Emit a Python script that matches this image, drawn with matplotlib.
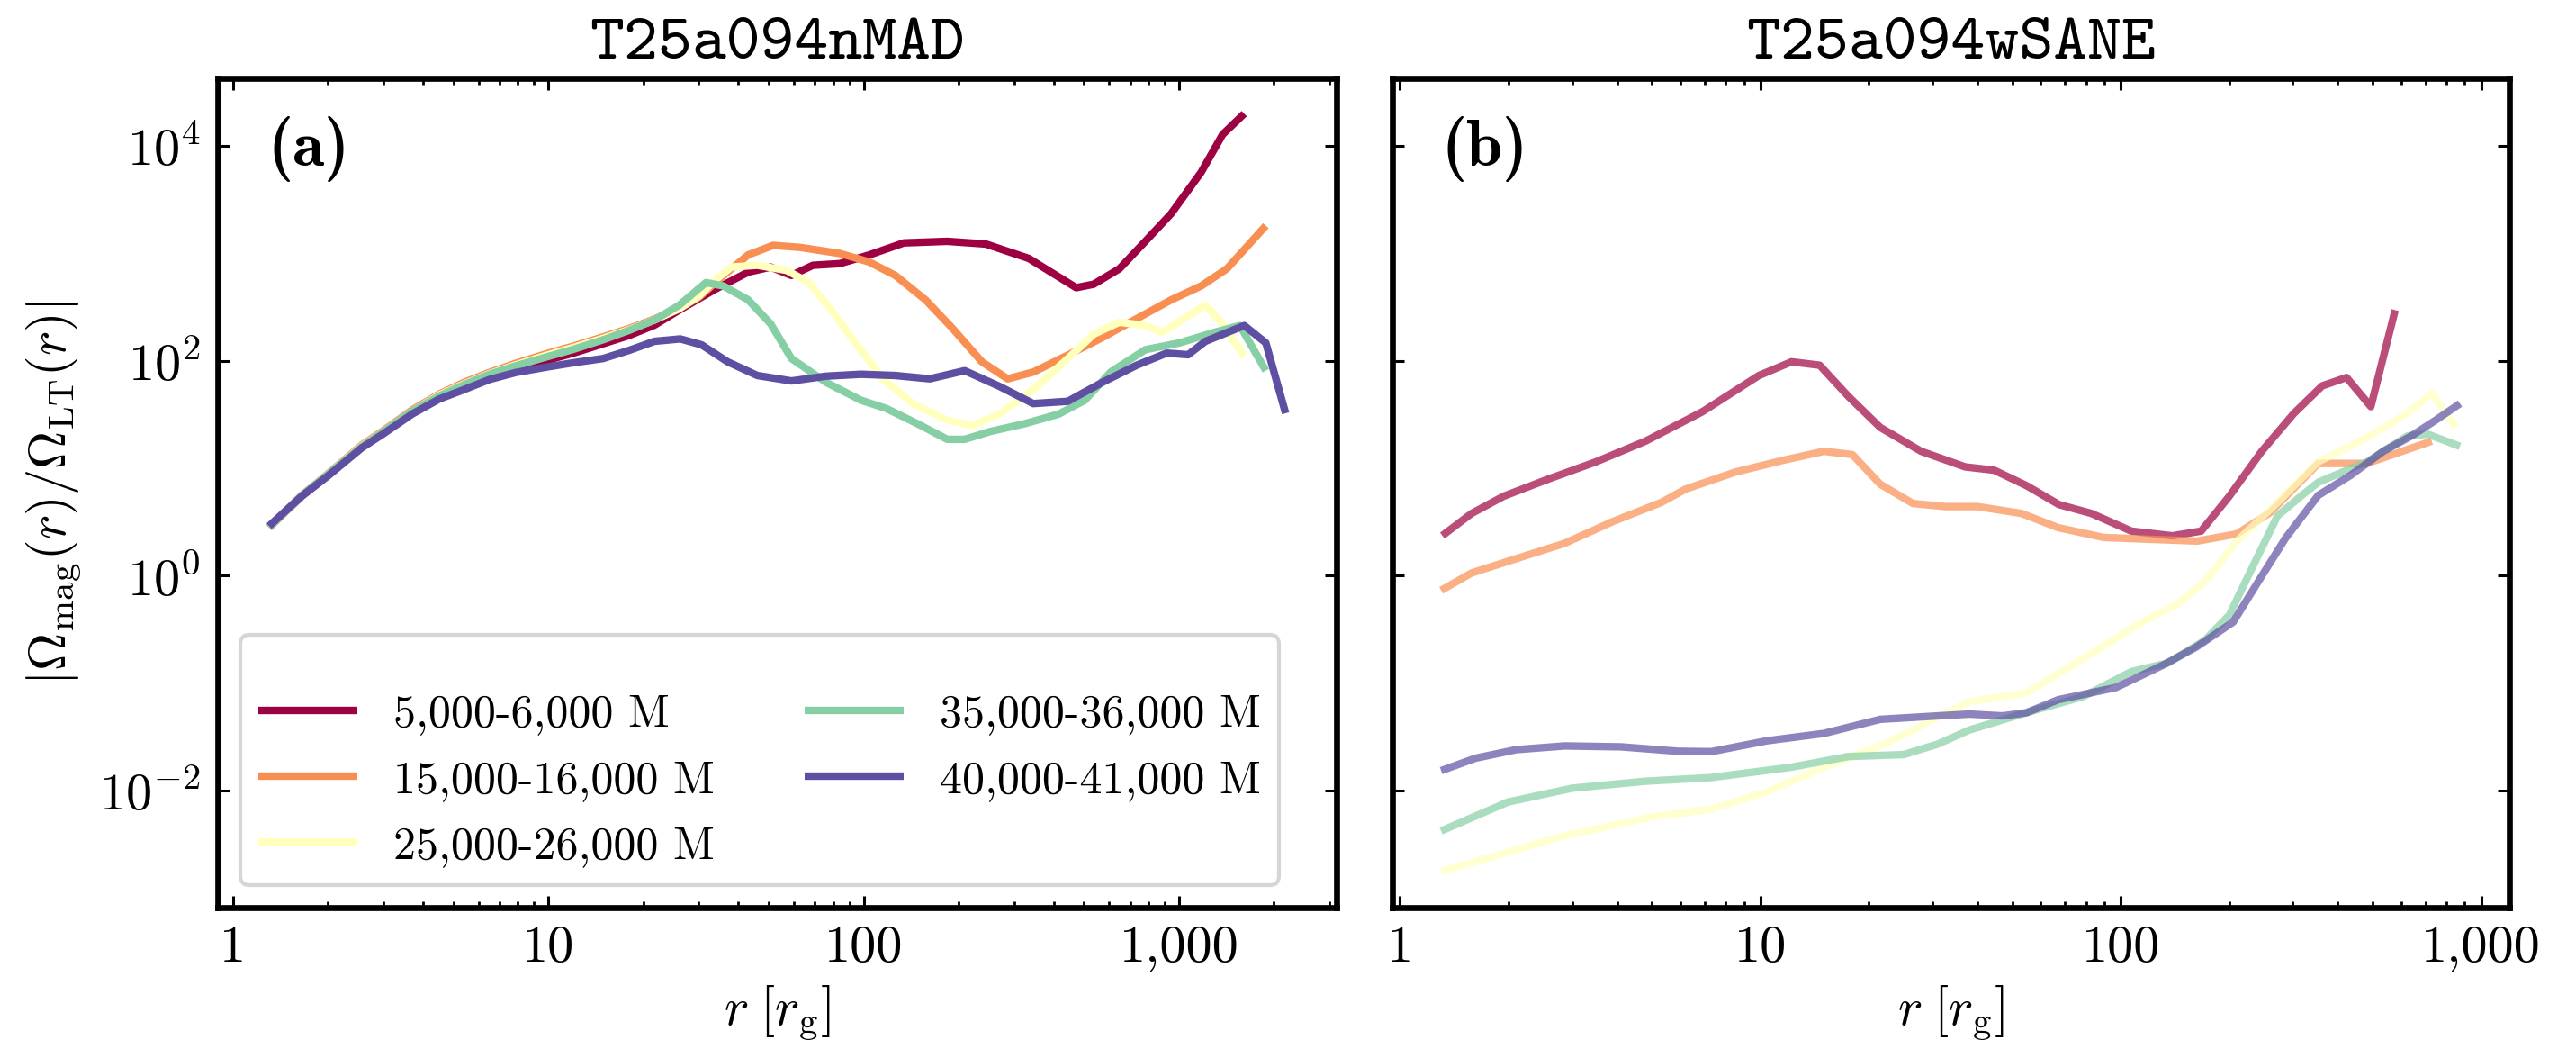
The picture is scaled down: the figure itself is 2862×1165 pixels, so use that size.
import numpy as np
import matplotlib
matplotlib.use("Agg")
import matplotlib.pyplot as plt
from matplotlib.ticker import FixedLocator, FuncFormatter, LogLocator, NullLocator

plt.rcParams['mathtext.fontset'] = 'cm'
plt.rcParams['font.family'] = ['cmr10', 'DejaVu Sans']
plt.rcParams['axes.formatter.use_mathtext'] = True
plt.rcParams['axes.unicode_minus'] = False

# ---------------- data ----------------
labels = ["5,000-6,000 M", "15,000-16,000 M", "25,000-26,000 M",
          "35,000-36,000 M", "40,000-41,000 M"]
titles = ["T25a094nMAD", "T25a094wSANE"]
panel_tags = ["(a)", "(b)"]
xtick_vals = [1, 10, 100, 1000]
xtick_labels = ["1", "10", "100", "1,000"]
ytick_vals = [1e-2, 1e0, 1e2, 1e4]

# panel (a)
a_r_red = [1.3, 1.65, 2.0, 2.56, 3.0, 3.7, 4.5, 5.4, 6.5, 7.9, 10, 12, 15, 18, 21.7, 26,
           33.7, 43, 50.7, 59, 69, 84, 104, 134, 184, 244, 334, 472, 536, 647, 782, 944,
           1175, 1375, 1610]
a_y_red = [2.8, 5.5, 8.6, 15.8, 21.5, 33, 46, 59, 72, 86, 102, 118, 145, 172, 215, 297,
           462, 670, 747, 624, 776, 804, 968, 1254, 1297, 1224, 898, 480, 517, 720, 1297,
           2345, 5690, 12800, 20000]
a_r_orange = [1.3, 1.65, 2.0, 2.56, 3.0, 3.7, 4.5, 5.4, 6.5, 7.9, 10, 12, 15, 18, 21.7, 26,
              30, 34.8, 43, 51.6, 63, 84, 104, 126, 157, 190, 237, 286, 345, 444, 570, 734,
              945, 1175, 1419, 1885]
a_y_orange = [2.8, 5.6, 8.9, 16.5, 22.5, 35, 49, 63, 78, 95, 118, 137, 168, 200, 245, 310,
              390, 577, 970, 1190, 1137, 1000, 834, 624, 370, 205, 98, 68, 78.6, 113, 164,
              247, 370, 498, 720, 1813]
a_r_yellow = [1.3, 1.65, 2.0, 2.56, 3.0, 3.7, 4.5, 5.4, 6.5, 7.9, 10, 12, 15, 18, 21.7, 26,
              30, 33.7, 38, 46, 57, 67, 79, 95, 115, 143, 184, 222, 269, 345, 444, 536, 647,
              782, 886, 1037, 1213, 1375, 1610]
a_y_yellow = [2.8, 5.6, 8.8, 16.2, 22, 34, 48, 61, 76, 92, 114, 133, 163, 195, 240, 305,
              400, 560, 747, 776, 695, 536, 297, 142, 68, 40, 28, 25, 32, 54, 105, 177, 229,
              213, 184, 247, 331, 221, 110]
a_r_green = [1.3, 1.65, 2.0, 2.56, 3.0, 3.7, 4.5, 5.4, 6.5, 7.9, 10, 12, 15, 18, 21.7, 26,
             31.6, 35.9, 43, 50.7, 59, 76, 98, 118, 148, 184, 209, 252, 324, 416, 503, 607,
             782, 1005, 1292, 1560, 1885]
a_y_green = [2.8, 5.6, 8.8, 16, 22, 34, 47, 60, 75, 90, 110, 128, 158, 192, 240, 330,
             536, 498, 370, 221, 105, 63, 43, 36, 26, 18.6, 18.6, 22, 26, 32, 43, 78.6,
             127, 147, 184, 213, 81]
a_r_purple = [1.3, 1.65, 2.0, 2.56, 3.0, 3.7, 4.5, 5.4, 6.5, 7.9, 10, 12, 14.9, 18, 21.7,
              26.2, 30.6, 37, 46, 59, 76, 98, 126, 162, 209, 269, 345, 444, 571, 734, 914,
              1069, 1213, 1611, 1885, 2178]
a_y_purple = [2.9, 5.5, 8.5, 15.5, 21, 32, 44, 54, 67, 78, 88, 96, 105, 125, 152, 160,
              141, 98, 73, 65, 72, 75, 73, 68, 81, 58, 40, 42, 63, 91, 118, 114, 152, 213,
              147, 32.5]

# panel (b)
b_r_red = [1.31, 1.58, 1.94, 2.57, 3.5, 4.8, 6.9, 9.9, 12.2, 14.6, 17.5, 21.5, 27.9, 37,
           44.5, 54.7, 67.3, 82.8, 107, 139, 167, 200, 246, 302, 362, 423, 494, 577]
b_y_red = [2.36, 3.8, 5.5, 7.9, 11.5, 17.9, 33.6, 73, 98, 91, 47, 24, 14.4, 10.3, 9.6,
           6.9, 4.6, 3.8, 2.6, 2.35, 2.6, 5.5, 14.4, 32.4, 58.5, 70, 37.5, 297]
b_r_orange = [1.3, 1.58, 2.1, 2.86, 3.9, 5.3, 6.2, 8.5, 11.6, 15, 18, 21.5, 26.5, 32.6, 40,
              53, 67, 89.5, 113, 163, 210, 259, 353, 482, 729]
b_y_orange = [0.73, 1.06, 1.44, 2.0, 3.2, 4.8, 6.4, 9.2, 11.9, 14.4, 13.4, 7.1, 4.7, 4.4,
              4.4, 3.8, 2.8, 2.27, 2.2, 2.1, 2.45, 3.85, 11.1, 11.1, 17.9]
b_r_yellow = [1.3, 1.79, 2.86, 5.05, 7.3, 10.4, 15, 22.6, 31, 38, 54.7, 78.7, 113, 143, 171,
              210, 272, 353, 482, 624, 729, 851]
b_y_yellow = [0.00177, 0.0024, 0.0038, 0.0057, 0.0067, 0.0097, 0.0165, 0.028, 0.048, 0.067,
              0.081, 0.17, 0.36, 0.54, 0.88, 2.1, 4.8, 11.5, 19.3, 32.4, 50, 24]
b_r_green = [1.3, 1.99, 3.0, 4.8, 7.3, 12.2, 17.5, 25, 31, 38, 54.7, 78.7, 107, 135, 171,
             200, 233, 272, 318, 353, 482, 624, 710, 873]
b_y_green = [0.0042, 0.0078, 0.0105, 0.0122, 0.0132, 0.0165, 0.0207, 0.0216, 0.027, 0.0366,
             0.053, 0.075, 0.128, 0.154, 0.25, 0.43, 1.24, 3.6, 5.6, 7.4, 11.5, 20, 20.8, 16]
b_r_purple = [1.3, 1.62, 2.1, 2.86, 4.1, 5.9, 7.3, 10.4, 15, 21.5, 31, 38, 46.9, 54.7, 67,
              97, 132, 162, 205, 239, 287, 353, 434, 535, 640, 747, 873]
b_y_purple = [0.0153, 0.02, 0.024, 0.026, 0.0255, 0.0232, 0.023, 0.029, 0.034, 0.046,
              0.0495, 0.0515, 0.0495, 0.053, 0.07, 0.091, 0.149, 0.217, 0.37, 0.85, 2.26,
              5.6, 8.6, 14.4, 20, 28, 40]

panel_a = [(a_r_red, a_y_red), (a_r_orange, a_y_orange), (a_r_yellow, a_y_yellow),
           (a_r_green, a_y_green), (a_r_purple, a_y_purple)]
panel_b = [(b_r_red, b_y_red), (b_r_orange, b_y_orange), (b_r_yellow, b_y_yellow),
           (b_r_green, b_y_green), (b_r_purple, b_y_purple)]

# ---------------- figure ----------------
W, H, DPI = 2862, 1165, 200
fig = plt.figure(figsize=(W / DPI, H / DPI), dpi=DPI)
ax1 = fig.add_axes([0.0847, 0.1348, 0.4340, 0.7901])
ax2 = fig.add_axes([0.5405, 0.1348, 0.4338, 0.7901])

cmap = plt.get_cmap('Spectral')
colors = [cmap(v) for v in np.linspace(0, 1, 5)]

for (r, y), c, lab in zip(panel_a, colors, labels):
    ax1.plot(r, y, color=c, lw=3.0, label=lab, solid_capstyle='butt')
for (r, y), c in zip(panel_b, colors):
    ax2.plot(r, y, color=c, lw=3.0, alpha=0.7, solid_capstyle='butt')

xlims = [(0.897, 3150), (0.952, 1200)]
ylim = (10 ** -3.09, 10 ** 4.626)

for i, ax in enumerate([ax1, ax2]):
    ax.set_xscale('log')
    ax.set_yscale('log')
    ax.set_xlim(*xlims[i])
    ax.set_ylim(*ylim)
    ax.xaxis.set_major_locator(FixedLocator(xtick_vals))
    ax.xaxis.set_major_formatter(FuncFormatter(
        lambda v, p: xtick_labels[xtick_vals.index(int(round(v)))] if int(round(v)) in xtick_vals else ""))
    ax.xaxis.set_minor_locator(LogLocator(base=10, subs=np.arange(2, 10), numticks=20))
    ax.xaxis.set_minor_formatter(FuncFormatter(lambda v, p: ""))
    ax.yaxis.set_major_locator(FixedLocator(ytick_vals))
    ax.yaxis.set_minor_locator(NullLocator())
    ax.tick_params(which='both', direction='in', top=True, right=True)
    ax.tick_params(which='major', length=4.7, width=1.1, labelsize=21, pad=7)
    ax.tick_params(which='minor', length=2.5, width=1.0)
    for s in ax.spines.values():
        s.set_linewidth(2.4)
    ax.set_title(titles[i], fontfamily='cmtt10', fontsize=26, pad=8)
    ax.text(0.044, 0.915, panel_tags[i], transform=ax.transAxes, fontfamily='cmb10',
            fontsize=26, ha='left', va='center')
    ax.set_xlabel(r'$r\;[r_{\rm g}]$', fontsize=21, labelpad=5)

ax2.yaxis.set_major_formatter(FuncFormatter(lambda v, p: ""))
ax1.set_ylabel(r'$|\Omega_{\rm mag}(r)/\Omega_{\rm LT}(r)|$', fontsize=21, labelpad=6)

leg = ax1.legend(loc='lower left', ncol=2, fontsize=18, frameon=True,
                 handlelength=2.2, borderaxespad=0.5, labelspacing=0.55,
                 title=' ', title_fontsize=7)
leg.get_frame().set_edgecolor('#cccccc')
leg.get_frame().set_linewidth(1.5)

fig.savefig('out.png', dpi=DPI)
